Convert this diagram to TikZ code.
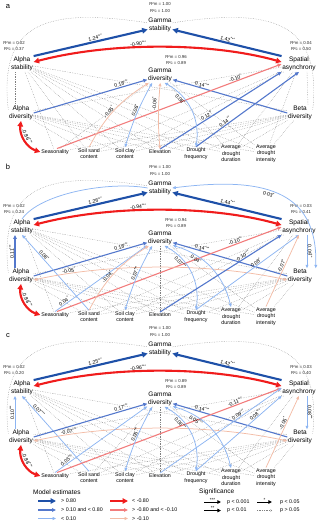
\documentclass[tikz,border=0pt]{standalone}
\usepackage{fontspec}
\setmainfont{Liberation Sans}
\usetikzlibrary{arrows.meta}
\definecolor{cdb}{HTML}{1E50A8}
\definecolor{cmb}{HTML}{5478CC}
\definecolor{clb}{HTML}{8DB5F2}
\definecolor{crr}{HTML}{F01C1C}
\definecolor{cmr}{HTML}{F27C7C}
\definecolor{clr}{HTML}{F3BCA6}
\newcommand\stars[1]{\textsuperscript{#1}}
\tikzset{
 mainn/.style={font=\fontsize{6.5}{8.2}\selectfont, align=center, inner sep=0.6pt},
 envn/.style={font=\fontsize{5.3}{6.6}\selectfont, align=center, inner sep=0.8pt},
 rsq/.style={font=\fontsize{4.3}{6.2}\selectfont, align=center, inner sep=0pt, text=black!85},
 coef/.style={font=\fontsize{5.1}{6}\selectfont, inner sep=0.5pt, sloped},
 lett/.style={font=\fontsize{7.5}{8}\selectfont, inner sep=0pt},
 lgt/.style={font=\fontsize{5.3}{6}\selectfont, anchor=west, inner sep=0pt},
 lgh/.style={font=\fontsize{6.5}{7}\selectfont, anchor=west, inner sep=0pt},
 ns/.style={draw=black!50, line width=0.4pt, dash pattern=on 0.5pt off 1.2pt},
 dbp/.style={draw=cdb, line width=2.1pt, >={Triangle[length=5.5pt,width=5.5pt]}, ->},
 mbp/.style={draw=cmb, line width=1.1pt, >={Triangle[length=4pt,width=3.6pt]}, ->},
 lbp/.style={draw=clb, line width=0.75pt, >={Triangle[length=3.4pt,width=2.9pt]}, ->},
 rrp/.style={draw=crr, line width=2.1pt, >={Triangle[length=5.5pt,width=5.5pt]}, ->},
 mrp/.style={draw=cmr, line width=1.1pt, >={Triangle[length=4pt,width=3.6pt]}, ->},
 lrp/.style={draw=clr, line width=0.75pt, >={Triangle[length=3.4pt,width=2.9pt]}, ->},
 sigp/.style={draw=black, line width=1pt, >={Triangle[length=3.6pt,width=3.4pt]}, ->},
}
\newcommand\placenodes[8]{%
 \node[mainn] (gs) at (160,25) {Gamma\\stability};
 \node[rsq] (gsr) at (160,7.5) {R²m = #1\\R²c = #2};
 \node[mainn] (as) at (22,64) {Alpha\\stability};
 \node[rsq] (asr) at (14,46) {R²m = #3\\R²c = #4};
 \node[mainn] (sa) at (299,64) {Spatial\\asynchrony};
 \node[rsq] (sar) at (301,46) {R²m = #5\\R²c = #6};
 \node[mainn] (gd) at (160,75) {Gamma\\diversity};
 \node[rsq] (gdr) at (176,60) {R²m = #7\\R²c = #8};
 \node[mainn] (ad) at (21,113) {Alpha\\diversity};
 \node[mainn] (bd) at (300,113) {Beta\\diversity};
 \node[envn] (se) at (55,152) {Seasonality};
 \node[envn] (ss) at (89,153.5) {Soil sand\\content};
 \node[envn] (sc) at (125,153.5) {Soil clay\\content};
 \node[envn] (el) at (160,152) {Elevation};
 \node[envn] (df) at (196,153.5) {Drought\\frequency};
 \node[envn] (du) at (231,153.5) {Average\\drought\\duration};
 \node[envn] (in) at (266,153.5) {Average\\drought\\intensity};
}
\newcommand\fan[2]{\foreach \t in {#2}{\draw[ns] (#1) -- (\t);}}
\begin{document}
\begin{tikzpicture}[x=1pt,y=-1pt]
\useasboundingbox (0,0) rectangle (320,524);
\node[lett] (la) at (8,7) {a};
\node[lett] (lb) at (8,167) {b};
\node[lett] (lc) at (8,336) {c};
% ---------------- panel a
\begin{scope}[name prefix=a-]
\placenodes{1.00}{1.00}{0.02}{0.37}{0.04}{0.50}{0.96}{0.89}
\fan{as}{se,ss,sc,el,df,du,in,bd}
\fan{ad}{ss,sc,el,df,du,in,sa}
\fan{gd}{se,du,in}
\fan{bd}{se,ss,sc,el,df,du,in}
\fan{sa}{ss,sc,du,in}
\draw[ns] ([xshift=-6pt]ad.north) -- ([xshift=-7pt]as.south);
\draw[ns] ([xshift=8pt]sa.south) -- ([xshift=8pt]bd.north);
\draw[ns] (ad.165) .. controls (-2,20) and (50,8) .. (gs.170);
\draw[ns] (bd.15) .. controls (322,20) and (270,8) .. (gs.10);
\draw[dbp] (as.north east) -- node[coef, above, pos=0.55] {1.24\stars{***}} (gs.200);
\draw[dbp] (sa.north west) -- node[coef, above, pos=0.5] {1.42\stars{***}} (gs.340);
\draw[rrp,<->] ([yshift=2pt]as.east) .. controls (110,42) and (210,42) .. node[coef, above, pos=0.42] {-0.90\stars{***}} ([yshift=2pt]sa.west);
\draw[mbp] (ad.east) -- node[coef, above, pos=0.78] {0.18\stars{***}} (gd.200);
\draw[mbp] (bd.west) -- node[coef, above, pos=0.75] {0.14\stars{***}} (gd.340);
\draw[mrp] (se.60) -- node[coef, above, pos=0.8] {-0.10\stars{*}} (sa.west);
\draw[mbp] (el.north) -- node[coef, above, pos=0.4] {0.12\stars{**}} (sa.south west);
\draw[mbp] (df.north) -- node[coef, above, pos=0.3] {0.14\stars{**}} (sa.south);
\draw[lrp] (ss.north) to[bend left=15] node[coef, above, pos=0.45] {-0.05\stars{*}} (gd.215);
\draw[lbp,<->] (sc.north) to[bend left=6] node[coef, above, pos=0.55] {0.06\stars{*}} (gd.225);
\draw[lrp,<->] (el.north) to[bend left=5] node[coef, above=1.5pt, pos=0.7] {-0.06\stars{*}} (gd.272);
\draw[lbp,<->] (gd.300) to[bend left=35] node[coef, below, pos=0.3] {0.08\stars{*}} (df.north);
\draw[rrp,<->] (ad.south) to[bend right=40] node[coef, above, pos=0.45] {-0.86\stars{***}} (se.west);
\end{scope}
% ---------------- panel b
\begin{scope}[shift={(0,163)}, name prefix=b-]
\placenodes{1.00}{1.00}{0.02}{0.24}{0.03}{0.41}{0.94}{0.89}
\fan{as}{se,sc,el,df,du,in,bd}
\fan{ad}{ss,sc,el,df,du,in,sa}
\fan{gd}{el,in}
\fan{bd}{se,ss,sc,el,df,du,in}
\fan{sa}{ss,sc,du}
\draw[ns] (ad.165) .. controls (-2,20) and (50,8) .. (gs.170);
\draw[lbp,<->] (as.north) .. controls (40,30) and (110,18) .. (gs.west) (gs.east) .. controls (260,14) and (318,25) .. node[coef, below, pos=0.45] {0.03\stars{*}} ([xshift=3pt]bd.north east);
\draw[dbp] (as.north east) -- node[coef, above, pos=0.55] {1.26\stars{***}} (gs.200);
\draw[dbp] (sa.north west) -- node[coef, above, pos=0.5] {1.44\stars{***}} (gs.340);
\draw[rrp,<->] ([yshift=2pt]as.east) .. controls (110,42) and (210,42) .. node[coef, above, pos=0.42] {-0.94\stars{***}} ([yshift=2pt]sa.west);
\draw[mbp] ([xshift=-6pt]ad.north) -- node[coef, above] {0.11\stars{***}} ([xshift=-7pt]as.south);
\draw[lbp] ([xshift=8pt]sa.south) -- node[coef, above] {0.09\stars{**}} ([xshift=7pt]bd.north);
\draw[mbp] (ad.east) -- node[coef, above, pos=0.78] {0.18\stars{***}} (gd.200);
\draw[mbp] (bd.west) -- node[coef, above, pos=0.75] {0.14\stars{***}} (gd.340);
\draw[mrp] (se.60) -- node[coef, above, pos=0.8] {-0.10\stars{**}} (sa.west);
\draw[lbp] (ss.north) -- node[coef, above, pos=0.7] {0.08\stars{*}} (as.south);
\draw[lrp,<->] ([yshift=-4pt]ad.east) .. controls (110,100) and (210,100) .. node[coef, above, pos=0.15] {-0.05\stars{*}} ([yshift=-4pt]bd.west);
\draw[lbp] (se.north) -- node[coef, above, pos=0.12] {0.04\stars{*}} (gd.210);
\draw[lrp] (ss.north) to[bend left=15] node[coef, above, pos=0.42] {-0.04\stars{*}} (gd.215);
\draw[lbp,<->] (sc.north) to[bend left=6] node[coef, above, pos=0.55] {0.07\stars{***}} (gd.225);
\draw[lbp,<->] (gd.300) to[bend left=35] node[coef, below, pos=0.3] {0.07\stars{***}} (df.north);
\draw[lbp,<->] (gd.330) to[bend left=30] node[coef, below, pos=0.3] {0.04\stars{*}} (du.north);
\draw[mbp] (el.north) -- node[coef, above, pos=0.7] {0.10\stars{***}} (sa.south west);
\draw[lbp] (df.north) -- node[coef, above, pos=0.6] {0.08\stars{*}} (sa.south);
\draw[lrp] (in.north) -- node[coef, above, pos=0.55] {-0.07\stars{*}} (sa.south);
\draw[rrp,<->] (ad.south) to[bend right=40] node[coef, above, pos=0.45] {-0.88\stars{***}} (se.west);
\end{scope}
% ---------------- panel c
\begin{scope}[shift={(0,324)}, name prefix=c-]
\placenodes{1.00}{1.00}{0.02}{0.20}{0.03}{0.40}{0.89}{0.89}
\fan{as}{se,sc,el,df,du,in,bd}
\fan{ad}{ss,sc,el,df,du,in,sa}
\fan{gd}{ss,el,in}
\fan{bd}{se,ss,sc,el,df,du,in}
\fan{sa}{ss,sc,du}
\draw[ns] (ad.165) .. controls (-2,20) and (50,8) .. (gs.170);
\draw[ns] (bd.15) .. controls (322,20) and (270,8) .. (gs.10);
\draw[dbp] (as.north east) -- node[coef, above, pos=0.55] {1.25\stars{***}} (gs.200);
\draw[dbp] (sa.north west) -- node[coef, above, pos=0.5] {1.42\stars{***}} (gs.340);
\draw[rrp,<->] ([yshift=2pt]as.east) .. controls (110,42) and (210,42) .. node[coef, above, pos=0.42] {-0.96\stars{***}} ([yshift=2pt]sa.west);
\draw[lbp] ([xshift=-6pt]ad.north) -- node[coef, above] {0.10\stars{***}} ([xshift=-7pt]as.south);
\draw[lbp] ([xshift=8pt]sa.south) -- node[coef, above] {0.08\stars{***}} ([xshift=7pt]bd.north);
\draw[lbp] (ss.north) -- node[coef, above, pos=0.78] {0.07\stars{***}} (as.south);
\draw[mbp] (ad.east) -- node[coef, above, pos=0.78] {0.17\stars{***}} (gd.200);
\draw[mbp] (bd.west) -- node[coef, above, pos=0.75] {0.14\stars{***}} (gd.340);
\draw[mrp] (se.60) -- node[coef, above, pos=0.8] {-0.11\stars{***}} (sa.west);
\draw[lrp,<->] ([yshift=-4pt]ad.east) .. controls (110,100) and (210,100) .. node[coef, above, pos=0.15] {-0.07\stars{***}} ([yshift=-4pt]bd.west);
\draw[lbp] (se.north) -- node[coef, above, pos=0.15] {0.05\stars{***}} (gd.210);
\draw[lbp,<->] (sc.north) to[bend left=6] node[coef, above, pos=0.55] {0.05\stars{***}} (gd.225);
\draw[lbp,<->] (gd.300) to[bend left=35] node[coef, below, pos=0.3] {0.06\stars{***}} (df.north);
\draw[lbp,<->] (gd.330) to[bend left=30] node[coef, below, pos=0.3] {0.05\stars{***}} (du.north);
\draw[lbp] (el.north) -- node[coef, above, pos=0.66] {0.09\stars{***}} (sa.west);
\draw[lbp] (df.north) -- node[coef, above, pos=0.72] {0.08\stars{***}} (sa.south west);
\draw[lrp] (in.north) -- node[coef, above, pos=0.6] {-0.05\stars{*}} (sa.south);
\draw[rrp,<->] (ad.south) to[bend right=40] node[coef, above, pos=0.45] {-0.88\stars{***}} (se.west);
\end{scope}
% ---------------- legend
\node[lgh] (lgm) at (33,492) {Model estimates};
\node[lgh] (lgs) at (199,492) {Significance};
\coordinate (m1a) at (38,501); \coordinate (m1b) at (56,501);
\coordinate (m2a) at (38,510); \coordinate (m2b) at (56,510);
\coordinate (m3a) at (38,518.5); \coordinate (m3b) at (56,518.5);
\coordinate (r1a) at (110,501); \coordinate (r1b) at (128,501);
\coordinate (r2a) at (110,510); \coordinate (r2b) at (128,510);
\coordinate (r3a) at (110,518.5); \coordinate (r3b) at (128,518.5);
\draw[dbp] (m1a) -- (m1b); \node[lgt] (t1) at (61,501) {> 0.80};
\draw[mbp] (m2a) -- (m2b); \node[lgt] (t2) at (61,510) {> 0.10 and < 0.80};
\draw[lbp] (m3a) -- (m3b); \node[lgt] (t3) at (61,518.5) {< 0.10};
\draw[rrp] (r1a) -- (r1b); \node[lgt] (t4) at (132,501) {< -0.80};
\draw[mrp] (r2a) -- (r2b); \node[lgt] (t5) at (132,510) {> -0.80 and < -0.10};
\draw[lrp] (r3a) -- (r3b); \node[lgt] (t6) at (132,518.5) {> -0.10};
\coordinate (s1a) at (204,502); \coordinate (s1b) at (221,502);
\coordinate (s2a) at (204,510.5); \coordinate (s2b) at (221,510.5);
\coordinate (s3a) at (257,502); \coordinate (s3b) at (272,502);
\coordinate (s4a) at (257,510.5); \coordinate (s4b) at (272,510.5);
\draw[sigp] (s1a) -- node[above, font=\fontsize{4.5}{5}\selectfont, inner sep=0.2pt] {***} (s1b);
\draw[sigp] (s2a) -- node[above, font=\fontsize{4.5}{5}\selectfont, inner sep=0.2pt] {**} (s2b);
\draw[sigp, line width=0.8pt] (s3a) -- node[above, font=\fontsize{4.5}{5}\selectfont, inner sep=0.2pt] {*} (s3b);
\draw[ns, ->, >={Straight Barb[length=1.3pt,width=2pt]}] (s4a) -- (s4b);
\node[lgt] (u1) at (227,502) {p < 0.001};
\node[lgt] (u2) at (227,510.5) {p < 0.01};
\node[lgt] (u3) at (280,502) {p < 0.05};
\node[lgt] (u4) at (280,510.5) {p > 0.05};
\end{tikzpicture}
\end{document}
